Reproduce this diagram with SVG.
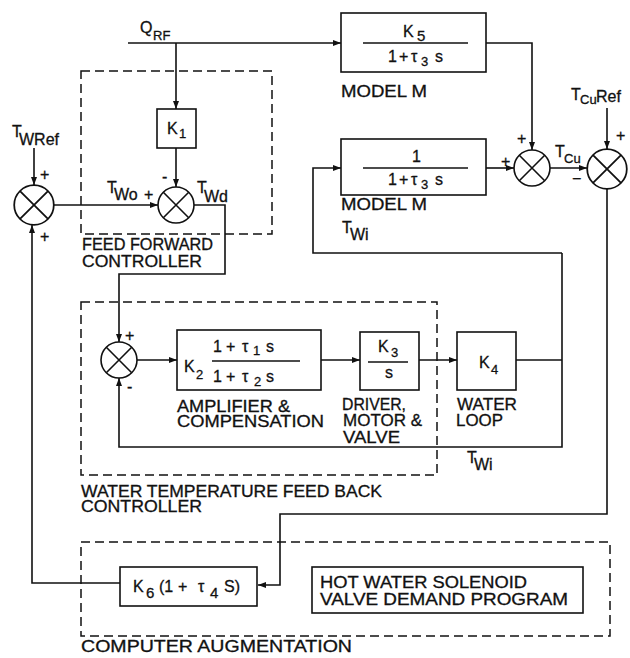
<svg xmlns="http://www.w3.org/2000/svg" width="630" height="658" viewBox="0 0 630 658">
<defs>
<style>
.t{font-family:"Liberation Sans",Arial,sans-serif;font-size:16px;fill:#111;stroke:#111;stroke-width:0.3}
.s{font-size:13px}
.ln{fill:none;stroke:#111;stroke-width:1.6}
.bx{fill:#fff;stroke:#111;stroke-width:1.6}
.ds{fill:none;stroke:#111;stroke-width:1.5;stroke-dasharray:9 5}
.ar{fill:none;stroke:#111;stroke-width:1.6;marker-end:url(#ah)}
</style>
<marker id="ah" viewBox="0 0 8 6" refX="8" refY="3" markerWidth="8" markerHeight="6" markerUnits="userSpaceOnUse" orient="auto">
<path d="M0,0 L8,3 L0,6 z" fill="#111"/>
</marker>
<g id="sj">
<circle cx="0" cy="0" r="18" fill="#fff" stroke="#111" stroke-width="1.6"/>
<path d="M-12.7,-12.7 L12.7,12.7 M12.7,-12.7 L-12.7,12.7" stroke="#111" stroke-width="1.6"/>
</g>
</defs>
<rect width="630" height="658" fill="#fff"/>

<g id="containers">
<rect class="ds" x="81" y="71" width="191" height="163"/>
<text class="t" x="82" y="250" textLength="131" lengthAdjust="spacingAndGlyphs">FEED FORWARD</text>
<text class="t" x="82" y="267" textLength="120" lengthAdjust="spacingAndGlyphs">CONTROLLER</text>
<rect class="ds" x="81" y="302" width="356" height="173"/>
<text class="t" x="81" y="497" textLength="301" lengthAdjust="spacingAndGlyphs">WATER TEMPERATURE FEED BACK</text>
<text class="t" x="81" y="512" textLength="121" lengthAdjust="spacingAndGlyphs">CONTROLLER</text>
<rect class="ds" x="81" y="542" width="529" height="94"/>
<text class="t" x="81" y="652" textLength="271" lengthAdjust="spacingAndGlyphs">COMPUTER AUGMENTATION</text>
</g>

<g id="connectors">
<path class="ln" d="M128,43 H176"/>
<path class="ar" d="M176,43 H341"/>
<path class="ar" d="M176,43 V109"/>
<path class="ar" d="M176,148 V187"/>
<path class="ar" d="M34,148 V185"/>
<path class="ar" d="M54,205 H158"/>
<path class="ar" d="M194,205 H225 V274 H119 V342"/>
<path class="ar" d="M137,360 H177"/>
<path class="ar" d="M321,360 H360"/>
<path class="ar" d="M419,360 H457"/>
<path class="ln" d="M516,360 H562"/>
<path class="ar" d="M562,253 V447 H119 V378"/>
<path class="ar" d="M562,253 H313 V168 H341"/>
<path class="ar" d="M486,43 H532 V150"/>
<path class="ar" d="M486,168 H514"/>
<path class="ar" d="M550,168 H587"/>
<path class="ar" d="M607,108 V149"/>
<path class="ar" d="M607,189 V514 H280 V585 H258"/>
<path class="ar" d="M120,583 H32 V225"/>
</g>

<g id="labels">
<text class="t" x="140" y="33">Q<tspan class="s" x="153" y="40">RF</tspan></text>
<text class="t" x="12" y="137">T<tspan x="19" y="145">WRef</tspan></text>
<text class="t" x="40" y="180">+</text>
<text class="t" x="40" y="242">+</text>
<text class="t" x="107" y="193">T<tspan x="114" y="200">Wo</tspan></text>
<text class="t" x="144" y="200">+</text>
<text class="t" x="162" y="182">-</text>
<text class="t" x="197" y="193">T<tspan x="204" y="202">Wd</tspan></text>
<text class="t" x="125" y="341">+</text>
<text class="t" x="127" y="392">-</text>
<text class="t" x="517" y="144">+</text>
<text class="t" x="501" y="167">+</text>
<text class="t" x="555" y="157">T<tspan class="s" x="564" y="163">Cu</tspan></text>
<text class="t" x="571" y="100">T<tspan class="s" x="580" y="104">Cu</tspan><tspan x="596" y="102">Ref</tspan></text>
<text class="t" x="616" y="141">+</text>
<text class="t" x="572" y="184">−</text>
<text class="t" x="342" y="233">T<tspan x="350" y="240">Wi</tspan></text>
<text class="t" x="467" y="463">T<tspan x="474" y="470">Wi</tspan></text>
</g>

<g id="K1">
<rect class="bx" x="157" y="109" width="39" height="39"/>
<text class="t" x="167" y="134">K<tspan class="s" x="179" y="138">1</tspan></text>
</g>

<g id="sum_wref"><use href="#sj" transform="translate(34,205) scale(1.1)"/></g>
<g id="sum_wd"><use href="#sj" x="176" y="205"/></g>
<g id="sum_fb"><use href="#sj" x="119" y="360"/></g>
<g id="sum_cu"><use href="#sj" x="532" y="168"/></g>
<g id="sum_curef"><use href="#sj" transform="translate(607,169) scale(1.1)"/></g>

<g id="modelK5">
<rect class="bx" x="341" y="13" width="145" height="59"/>
<text class="t" x="403" y="37">K<tspan x="417" y="41" font-size="15">5</tspan></text>
<path class="ln" d="M363,43 H468"/>
<text class="t" x="388" y="62">1<tspan x="399">+</tspan><tspan x="411">τ</tspan><tspan class="s" x="421" y="66">3</tspan><tspan x="435" y="62">s</tspan></text>
<text class="t" x="341" y="97" textLength="86" lengthAdjust="spacingAndGlyphs">MODEL M</text>
</g>

<g id="model1">
<rect class="bx" x="341" y="139" width="145" height="56"/>
<text class="t" x="412" y="162">1</text>
<path class="ln" d="M363,168 H468"/>
<text class="t" x="388" y="185">1<tspan x="399">+</tspan><tspan x="411">τ</tspan><tspan class="s" x="421" y="189">3</tspan><tspan x="435" y="185">s</tspan></text>
<text class="t" x="341" y="210" textLength="86" lengthAdjust="spacingAndGlyphs">MODEL M</text>
</g>

<g id="K2">
<rect class="bx" x="177" y="330" width="144" height="60"/>
<text class="t" x="184" y="372">K<tspan class="s" x="196" y="379">2</tspan></text>
<text class="t" x="213" y="352">1<tspan x="226">+</tspan><tspan x="242">τ</tspan><tspan class="s" x="253" y="355">1</tspan><tspan x="266" y="352">s</tspan></text>
<path class="ln" d="M212,361 H300"/>
<text class="t" x="213" y="382">1<tspan x="226">+</tspan><tspan x="242">τ</tspan><tspan class="s" x="254" y="386">2</tspan><tspan x="266" y="382">s</tspan></text>
<text class="t" x="177" y="412" textLength="113" lengthAdjust="spacingAndGlyphs">AMPLIFIER &amp;</text>
<text class="t" x="177" y="427" textLength="147" lengthAdjust="spacingAndGlyphs">COMPENSATION</text>
</g>

<g id="K3">
<rect class="bx" x="360" y="332" width="59" height="58"/>
<text class="t" x="378" y="352">K<tspan class="s" x="391" y="357">3</tspan></text>
<path class="ln" d="M368,362 H408"/>
<text class="t" x="385" y="378">s</text>
<text class="t" x="342" y="410" textLength="64" lengthAdjust="spacingAndGlyphs">DRIVER,</text>
<text class="t" x="343" y="426" textLength="79" lengthAdjust="spacingAndGlyphs">MOTOR &amp;</text>
<text class="t" x="343" y="443" textLength="57" lengthAdjust="spacingAndGlyphs">VALVE</text>
</g>

<g id="K4">
<rect class="bx" x="457" y="332" width="59" height="58"/>
<text class="t" x="479" y="368">K<tspan class="s" x="491" y="374">4</tspan></text>
<text class="t" x="457" y="410" textLength="60" lengthAdjust="spacingAndGlyphs">WATER</text>
<text class="t" x="456" y="426" textLength="47" lengthAdjust="spacingAndGlyphs">LOOP</text>
</g>

<g id="K6">
<rect class="bx" x="120" y="567" width="137" height="39"/>
<text class="t" x="133" y="592">K<tspan x="146" y="598" font-size="15">6</tspan><tspan x="159" y="592">(1</tspan><tspan x="178">+</tspan><tspan x="198">τ</tspan><tspan x="210" y="598" font-size="15">4</tspan><tspan x="224" y="592">S)</tspan></text>
</g>

<g id="program">
<rect class="bx" x="312" y="567" width="271" height="46"/>
<text class="t" x="320" y="588" textLength="207" lengthAdjust="spacingAndGlyphs">HOT WATER SOLENOID</text>
<text class="t" x="320" y="605" textLength="248" lengthAdjust="spacingAndGlyphs">VALVE DEMAND PROGRAM</text>
</g>
</svg>
